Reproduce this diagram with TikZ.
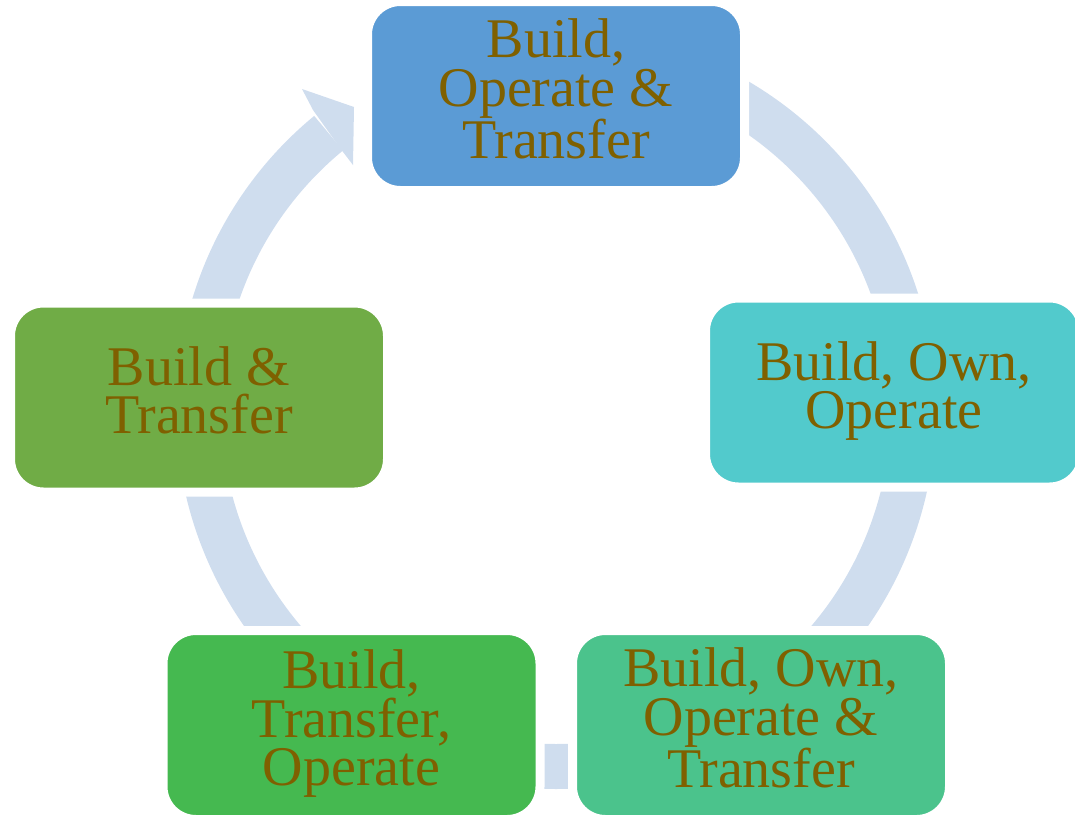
\documentclass[tikz,border=0pt]{standalone}
\usepackage{fontspec}
\setmainfont{Liberation Serif}
\definecolor{ringc}{RGB}{207,221,238}
\definecolor{txtc}{RGB}{127,96,0}
\definecolor{ctop}{RGB}{91,155,213}
\definecolor{cright}{RGB}{82,202,204}
\definecolor{cbright}{RGB}{75,195,140}
\definecolor{cbleft}{RGB}{69,185,80}
\definecolor{cleft}{RGB}{112,172,70}
\begin{document}
\begin{tikzpicture}[x=1pt,y=1pt,
  cyclebox/.style={rectangle, rounded corners=33pt, minimum width=377pt,
    minimum height=189pt, inner sep=0pt, draw=white, line width=9pt,
    text=txtc, align=center, font=\fontsize{56}{48.5}\selectfont}]
\useasboundingbox (0,-815) rectangle (1075,0);
\clip (0,-815) rectangle (1075,0);
% ring
\coordinate (c) at (556,-409);
\draw[ringc, line width=45pt] (c) ++(129.5:357.5) arc[start angle=129.5, end angle=450, radius=357.5];
% arrowhead
\fill[ringc] (313,-110) -- (302,-89) -- (354,-107) -- (353,-165) -- (340,-148) -- cycle;
% boxes
\node[cyclebox, fill=ctop] (top) at (556,-96) {Build,\\Operate \&\\Transfer\strut};
\node[cyclebox, fill=cright] (right) at (894,-392.5) {Build, Own,\\Operate\strut};
\node[cyclebox, fill=cbright] (bright) at (761,-725) {Build, Own,\\Operate \&\\Transfer\strut};
\node[cyclebox, fill=cbleft] (bleft) at (351.5,-725) {Build,\\Transfer,\\Operate\strut};
\node[cyclebox, fill=cleft] (left) at (199,-397.5) {Build \&\\Transfer\strut};
\end{tikzpicture}
\end{document}
